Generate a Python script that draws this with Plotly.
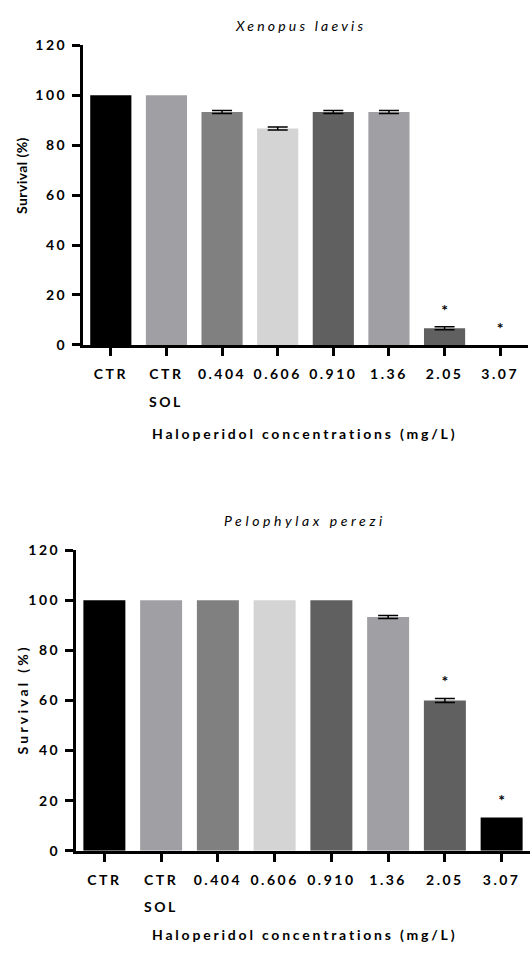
import plotly.graph_objects as go

# Haloperidol exposure groups (x axis)
groups = ["CTR", "CTR SOL", "0.404", "0.606", "0.910", "1.36", "2.05", "3.07"]
tick_line1 = ["CTR", "CTR", "0.404", "0.606", "0.910", "1.36", "2.05", "3.07"]
tick_line2 = ["", "SOL", "", "", "", "", "", ""]

# Survival (%) means and error for each species (None = no error bar drawn)
xenopus_survival = [100, 100, 93.3, 86.7, 93.3, 93.3, 6.7, 0]
xenopus_error = [None, None, 0.6, 0.6, 0.6, 0.6, 0.6, None]
xenopus_signif = [False, False, False, False, False, False, True, True]

pelophylax_survival = [100, 100, 100, 100, 100, 93.3, 60, 13.3]
pelophylax_error = [None, None, None, None, None, 0.6, 0.8, None]
pelophylax_signif = [False, False, False, False, False, False, True, True]

bar_colors = ["#000000", "#a0a0a4", "#808080", "#d4d4d4",
              "#606060", "#a0a0a4", "#606060", "#000000"]

FONT = "Lato"
W, H = 530, 954


def spaced(text, px):
    return f'<span style="letter-spacing:{px}px">{text}</span>'


fig = go.Figure()


def add_panel(values, errors, signif, xa, ya):
    fig.add_trace(go.Bar(
        x=groups, y=values,
        marker=dict(color=bar_colors, line=dict(width=0)),
        xaxis=xa, yaxis=ya, showlegend=False, hoverinfo="skip",
    ))
    # error bars only where a spread was measured
    err_x = [g for g, e in zip(groups, errors) if e is not None]
    err_y = [v for v, e in zip(values, errors) if e is not None]
    err_v = [e for e in errors if e is not None]
    fig.add_trace(go.Scatter(
        x=err_x, y=err_y, mode="markers",
        marker=dict(size=1, opacity=0),
        error_y=dict(type="data", array=err_v, visible=True,
                     color="#000000", thickness=1.5, width=10),
        xaxis=xa, yaxis=ya, showlegend=False, hoverinfo="skip",
    ))
    star_x = [g for g, s in zip(groups, signif) if s]
    star_y = [v + (e or 0) + 6 for v, e, s in zip(values, errors, signif) if s]
    fig.add_trace(go.Scatter(
        x=star_x, y=star_y, mode="text", text=["*"] * len(star_x),
        textfont=dict(family=FONT, size=16, color="#000000", weight="bold"),
        textposition="middle center",
        xaxis=xa, yaxis=ya, showlegend=False, hoverinfo="skip",
    ))


add_panel(xenopus_survival, xenopus_error, xenopus_signif, "x", "y")
add_panel(pelophylax_survival, pelophylax_error, pelophylax_signif, "x2", "y2")


def py(px):
    return 1 - px / H


tick_font = dict(family=FONT, size=14, color="#000000", weight="bold")

xaxis_common = dict(
    type="category", categoryorder="array", categoryarray=groups,
    range=[-0.5, 7.5],
    tickvals=groups, ticktext=[spaced(t, 2.5) for t in tick_line1],
    showline=True, linecolor="#000000", linewidth=3,
    ticks="outside", ticklen=8, tickwidth=3, tickcolor="#000000",
    tickfont=tick_font, ticklabelstandoff=6,
    showgrid=False, zeroline=False, fixedrange=True,
)
y_ticks = [0, 20, 40, 60, 80, 100, 120]
yaxis_common = dict(
    range=[0, 120], tickvals=y_ticks,
    ticktext=[spaced(str(v), 2.5) for v in y_ticks],
    showline=True, linecolor="#000000", linewidth=3,
    ticks="outside", ticklen=8, tickwidth=2.5, tickcolor="#000000",
    tickfont=tick_font, ticklabelstandoff=2,
    showgrid=False, zeroline=False, fixedrange=True,
)

fig.update_layout(
    width=W, height=H,
    margin=dict(l=0, r=0, t=0, b=0),
    paper_bgcolor="#ffffff", plot_bgcolor="#ffffff",
    bargap=0.26,
    xaxis=dict(domain=[83 / W, 528 / W], anchor="y", **xaxis_common),
    yaxis=dict(domain=[py(342), py(37)], anchor="x", **yaxis_common),
    xaxis2=dict(domain=[76 / W, 1.0], anchor="y2", **xaxis_common),
    yaxis2=dict(domain=[py(857), py(551)], anchor="x2", **yaxis_common),
)

annotations = []


def panel_text(title, title_x, title_y, title_sp, xcenter, sol_y, xtitle_y,
               ytitle_y, ytitle_sp, xa):
    annotations.append(dict(
        text=spaced(title, title_sp), x=title_x / W, y=py(title_y),
        xref="paper", yref="paper", showarrow=False,
        xanchor="center", yanchor="middle",
        font=dict(family=FONT, size=14, color="#000000", style="italic"),
    ))
    for g, t in zip(groups, tick_line2):
        if t:
            annotations.append(dict(
                text=spaced(t, 2.5), x=g, y=py(sol_y), xref=xa, yref="paper",
                showarrow=False, xanchor="center", yanchor="middle",
                font=tick_font,
            ))
    annotations.append(dict(
        text=spaced("Haloperidol concentrations (mg/L)", 2.8),
        x=xcenter / W, y=py(xtitle_y),
        xref="paper", yref="paper", showarrow=False,
        xanchor="center", yanchor="middle", font=tick_font,
    ))
    annotations.append(dict(
        text=spaced("Survival (%)", ytitle_sp), x=22 / W, y=py(ytitle_y),
        xref="paper", yref="paper", showarrow=False, textangle=-90,
        xanchor="center", yanchor="middle", font=tick_font,
    ))


panel_text("Xenopus laevis", 300, 17, 3.2, 304, 400, 432, 170, 0.4, "x")
panel_text("Pelophylax perezi", 305, 521, 3.6, 304, 914, 942, 703, 3.2, "x2")

fig.update_layout(annotations=annotations)

fig.write_html("out.html")
